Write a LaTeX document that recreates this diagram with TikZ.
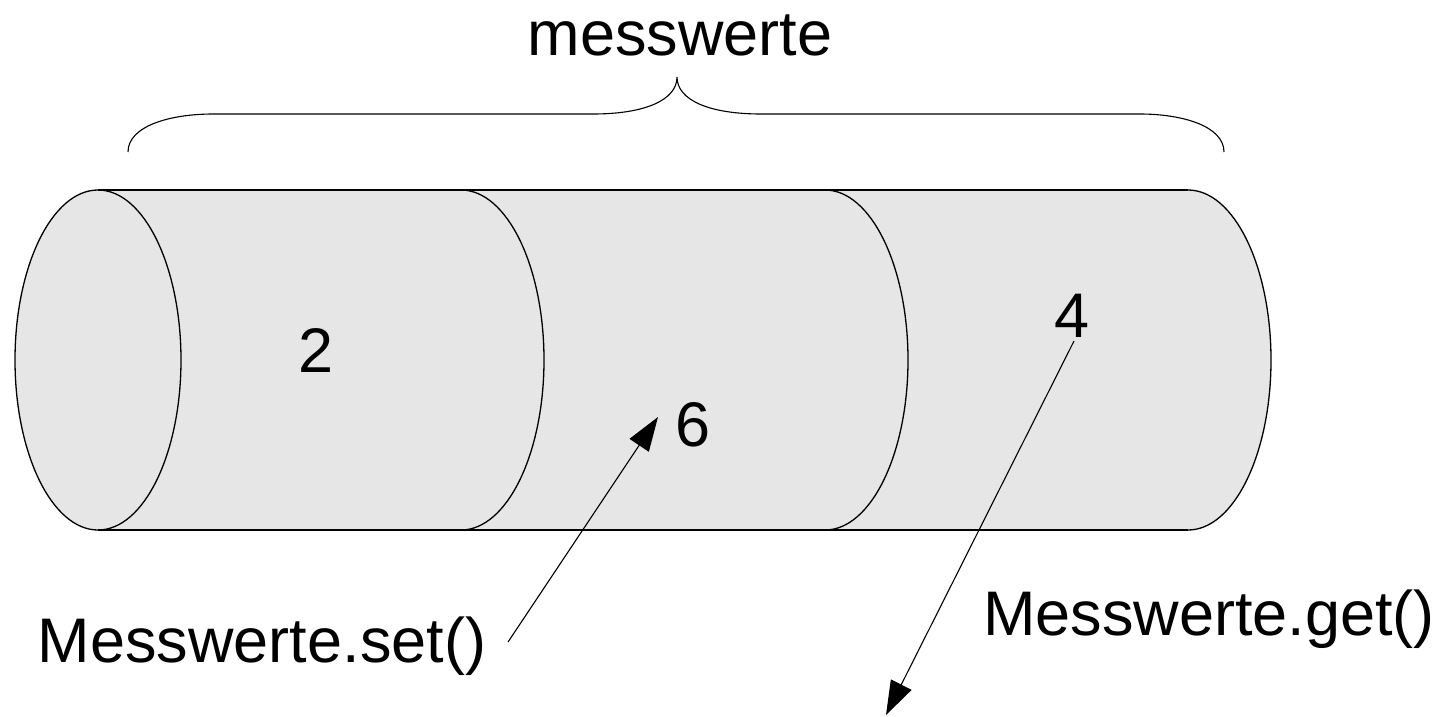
\documentclass[tikz,border=0pt]{standalone}
\usepackage{fontspec}
\setmainfont{Liberation Sans}
\usetikzlibrary{arrows.meta}
\definecolor{cylfill}{RGB}{230,230,230}
\begin{document}
\begin{tikzpicture}[x=1pt,y=-1pt,
  lbl/.style={font=\fontsize{63}{75}\selectfont, inner sep=0pt, anchor=base},
  edge/.style={line width=1.3pt, black},
  bracestyle/.style={line width=1.1pt, black},
  arr/.style={line width=1.1pt, black, -{Triangle[length=34pt,width=23pt]}}]
\useasboundingbox (0,0) rectangle (1451,716);
% cylinder body
\fill[cylfill] (98,190) -- (1188,190)
  arc[start angle=90, end angle=-90, x radius=83pt, y radius=170pt]
  -- (98,530)
  arc[start angle=270, end angle=90, x radius=83pt, y radius=170pt] -- cycle;
\draw[edge] (98,190) -- (1188,190);
\draw[edge] (98,530) -- (1188,530);
\draw[edge] (98,360) ellipse [x radius=83pt, y radius=170pt];
\draw[edge] (461,190) arc[start angle=90, end angle=-90, x radius=83pt, y radius=170pt];
\draw[edge] (825,190) arc[start angle=90, end angle=-90, x radius=83pt, y radius=170pt];
\draw[edge] (1188,190) arc[start angle=90, end angle=-90, x radius=83pt, y radius=170pt];
% brace
\draw[bracestyle] (128,152) .. controls (128,126) and (170,114) .. (213,114) -- (593,114)
  .. controls (645,114) and (677,100) .. (677,77)
  .. controls (677,100) and (709,114) .. (761,114) -- (1140,114)
  .. controls (1182,114) and (1224,126) .. (1224,152);
% labels
\node[lbl] (title) at (680,55) {messwerte};
\node[lbl] (two) at (316,372) {2};
\node[lbl] (six) at (693,446) {6};
\node[lbl] (four) at (1072,337) {4};
\node[lbl] (setlbl) at (262,662) {Messwerte.set()};
\node[lbl] (getlbl) at (1209,635) {Messwerte.get()};
% arrows
\coordinate (setfrom) at (508,642);
\coordinate (setto) at (658,417);
\coordinate (getfrom) at (1074,341);
\coordinate (getto) at (886,715);
\draw[arr] (setfrom) -- (setto);
\draw[arr] (getfrom) -- (getto);
\end{tikzpicture}
\end{document}
